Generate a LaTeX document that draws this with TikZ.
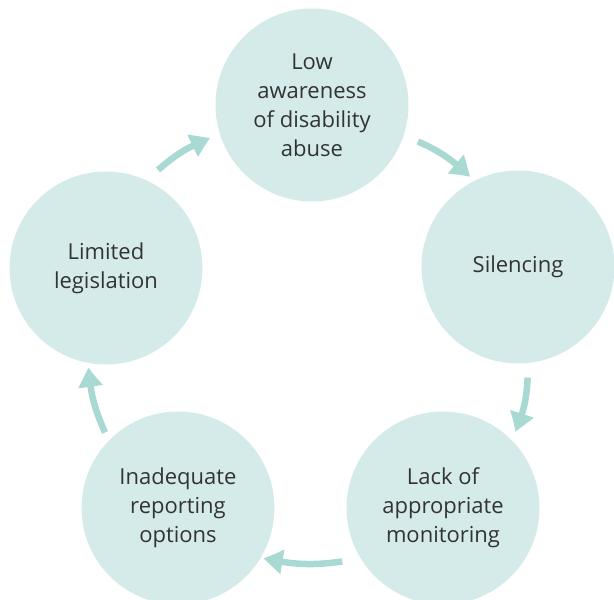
\documentclass[tikz,border=0pt]{standalone}
\usepackage{fontspec}
\setmainfont{Open Sans}
\usetikzlibrary{arrows.meta,bending}
\definecolor{circfill}{HTML}{D5EBE9}
\definecolor{arrcol}{HTML}{A9D9D3}
\definecolor{txt}{HTML}{333333}
\begin{document}
\begin{tikzpicture}[x=1pt,y=1pt,
  stage/.style={circle,fill=circfill,minimum size=193pt,inner sep=0pt,align=center,
    text=txt,font=\fontsize{22}{29}\selectfont},
  cyc/.style={draw=arrcol,line width=6.5pt,bend left=10,
    -{Triangle[width=23pt,length=20pt,bend]}}]
\useasboundingbox (0,0) rectangle (614,600);
\node[stage] (T) at (312,495) {Low\\awareness\\of disability\\abuse};
\node[stage] (R) at (518,333) {Silencing};
\node[stage] (BR) at (443,92) {Lack of\\appropriate\\monitoring};
\node[stage] (BL) at (178,92) {Inadequate\\reporting\\options};
\node[stage] (L) at (106,332) {Limited\\legislation};
\draw[cyc] ([shift={(62:111)}]L.center) to ([shift={(198:107)}]T.center);
\draw[cyc] ([shift={(-19:112)}]T.center) to ([shift={(118:102)}]R.center);
\draw[cyc] ([shift={(-85:111)}]R.center) to ([shift={(46.5:105)}]BR.center);
\draw[cyc] ([shift={(208:114)}]BR.center) to ([shift={(-30.5:99)}]BL.center);
\draw[cyc] ([shift={(134:105)}]BL.center) to ([shift={(-100:101)}]L.center);
\end{tikzpicture}
\end{document}
